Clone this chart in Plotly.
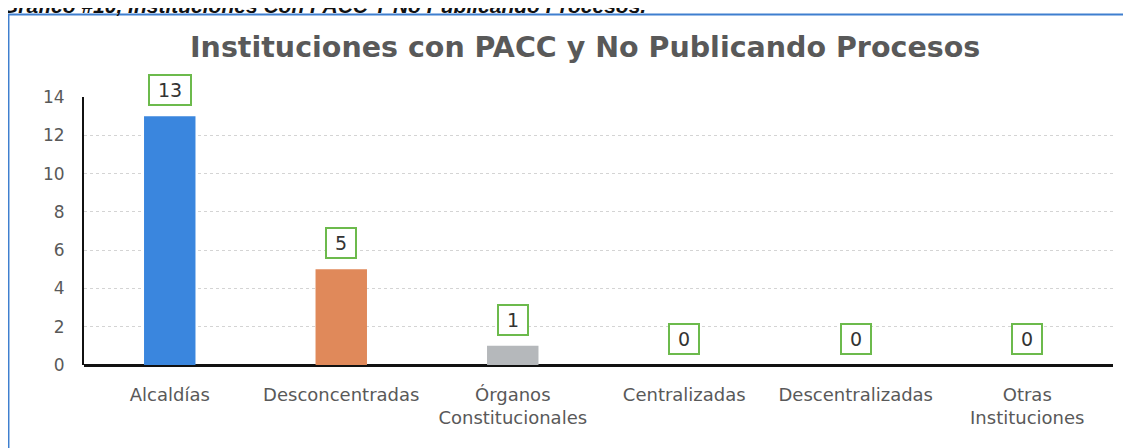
import plotly.graph_objects as go

# datos
categorias = ["Alcaldías", "Desconcentradas", "Órganos<br>Constitucionales",
              "Centralizadas", "Descentralizadas", "Otras<br>Instituciones"]
valores = [13, 5, 1, 0, 0, 0]
colores = ["#3a86de", "#e0895a", "#b5b8bb", "#3a86de", "#e0895a", "#b5b8bb"]
y_ticks = [0, 2, 4, 6, 8, 10, 12, 14]

titulo = "Instituciones con PACC y No Publicando Procesos"
encabezado = "Gráfico #10, Instituciones Con PACC Y No Publicando Procesos."

TEXT_GRAY = "#595959"

fig = go.Figure()

fig.add_trace(go.Bar(
    x=categorias,
    y=valores,
    marker=dict(color=colores, line=dict(width=0)),
    width=0.3,
    showlegend=False,
))

# etiquetas de datos con recuadro verde
for cat, val in zip(categorias, valores):
    fig.add_annotation(
        x=cat, y=val, xref="x", yref="y",
        text=str(val),
        showarrow=False,
        yanchor="middle",
        yshift=26,
        font=dict(family="DejaVu Sans", size=19, color="#333333"),
        bgcolor="white",
        bordercolor="#6cba4c",
        borderwidth=2,
        borderpad=3,
        width=34 if val >= 10 else 22,
    )

# título del gráfico
fig.add_annotation(
    x=0.487, y=1.185, xref="paper", yref="paper",
    text="<b>" + titulo + "</b>",
    showarrow=False,
    xanchor="center", yanchor="middle",
    font=dict(family="DejaVu Sans", size=28.5, color=TEXT_GRAY),
)

# encabezado del documento (cortado arriba, como en el original)
fig.add_annotation(
    x=-0.082, y=1.29, xref="paper", yref="paper",
    text="<b><i>" + encabezado + "</i></b>",
    showarrow=False,
    xanchor="left", yanchor="bottom",
    font=dict(family="Liberation Sans", size=21, color="#111111"),
)

# marco azul del gráfico
fig.add_shape(
    type="rect", xref="paper", yref="paper",
    x0=-0.0734, x1=1.05, y0=-0.5, y1=1.308,
    line=dict(color="#3f7fcf", width=2),
    fillcolor="rgba(0,0,0,0)",
    layer="below",
)

# la página añade 8 px de margen arriba y a la izquierda
fig.update_layout(
    width=1131,
    height=448,
    margin=dict(l=76, r=26, t=89, b=91),
    paper_bgcolor="white",
    plot_bgcolor="white",
    bargap=0.7,
    font=dict(family="DejaVu Sans", size=16, color=TEXT_GRAY),
    xaxis=dict(
        showgrid=False,
        showline=False,
        ticks="",
        ticklabelstandoff=17,
        tickfont=dict(size=18, color=TEXT_GRAY),
        range=[-0.5, 5.5],
        zeroline=False,
    ),
    yaxis=dict(
        range=[0, 14],
        tickvals=y_ticks,
        showgrid=True,
        gridcolor="#d4d4d4",
        griddash="dot",
        gridwidth=1,
        showline=True,
        linecolor="#111111",
        linewidth=2,
        zeroline=True,
        zerolinecolor="#111111",
        zerolinewidth=3,
        ticks="",
        ticklabelstandoff=14,
        tickfont=dict(size=17, color=TEXT_GRAY),
    ),
)

fig.write_html("out.html")
